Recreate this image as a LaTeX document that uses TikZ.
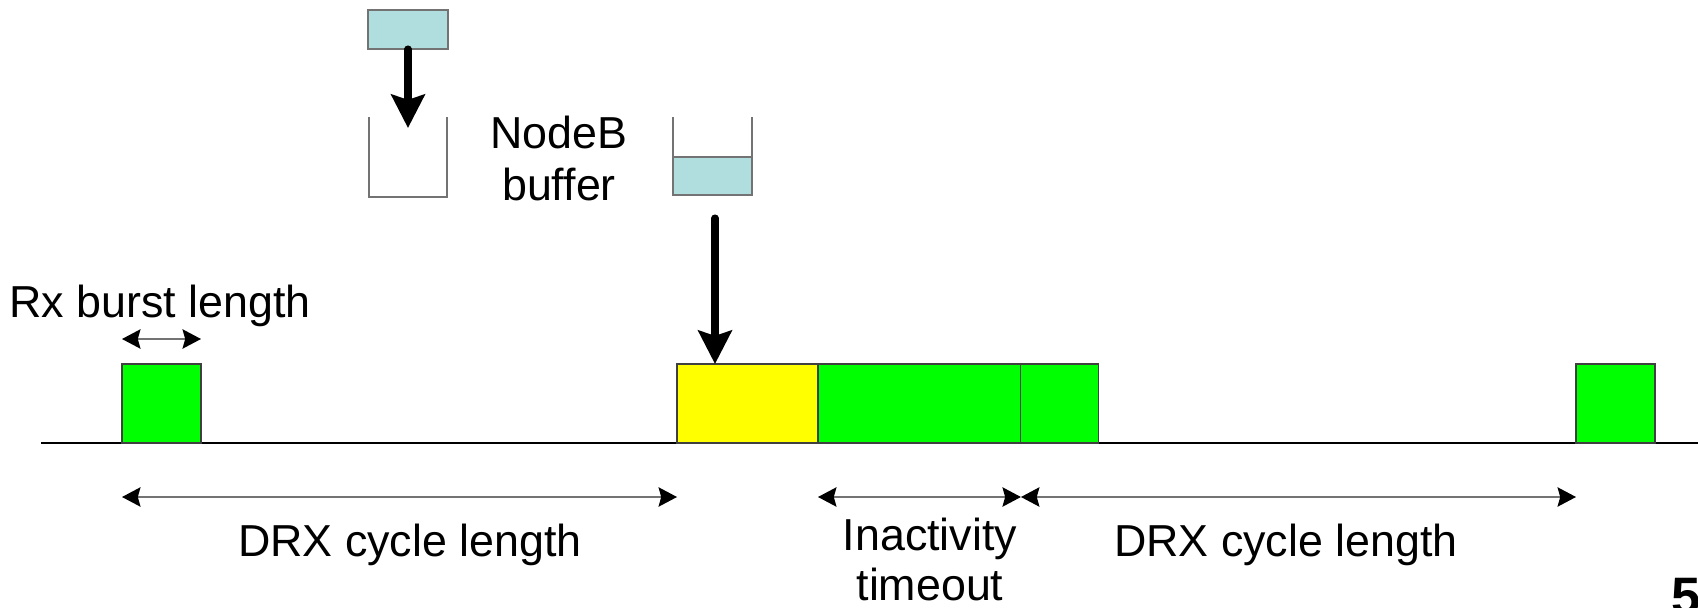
\documentclass[tikz,border=0pt]{standalone}
\usepackage{fontspec}
\setmainfont{Liberation Sans}
\usetikzlibrary{arrows.meta,positioning}
\definecolor{pktcyan}{RGB}{176,221,221}
\definecolor{rxgreen}{RGB}{0,255,0}
\definecolor{rxyellow}{RGB}{255,255,0}
\tikzset{dimtip/.tip={Stealth[length=10.5pt,width=11pt,inset=1.5pt,color=black]}}

\begin{document}
\begin{tikzpicture}[x=0.02cm,y=-0.02cm,
  font=\fontsize{25.5}{29.5}\selectfont,
  slot/.style={draw=black!75,line width=0.6pt,minimum height=1.58cm,inner sep=0pt,outer sep=0pt},
  burst/.style={slot,fill=rxgreen,minimum width=1.58cm},
  pktbox/.style={draw=black!55,line width=0.6pt,fill=pktcyan,inner sep=0pt,outer sep=0pt,minimum width=1.58cm},
  bufline/.style={draw=black!55,line width=0.7pt},
  dim/.style={black!55,line width=1.1pt,dimtip-dimtip},
  fat/.style={line width=4pt,line cap=round,-{Stealth[length=19pt,width=19pt,inset=3pt]}},
  lbl/.style={inner sep=0pt,anchor=base}]
  \useasboundingbox (0,0) rectangle (1698,608);

  % Time axis
  \draw[line width=0.7pt] (41,443) -- (1698,443);

  % Rx bursts on the axis
  \foreach \n/\x in {rx1/161.5, rx3/1615.5}
    \node[burst] (\n) at (\x,403.5) {};
  \node[slot,fill=rxyellow,minimum width=2.82cm] (data) at (747.5,403.5) {};
  \node[slot,fill=rxgreen,minimum width=4.06cm,right=0pt of data] (inact) {};
  \node[burst,minimum width=1.56cm,right=0pt of inact] (rx2) {};

  % NodeB buffer, before and after
  \node[pktbox,minimum width=1.6cm,minimum height=0.78cm] (pkt) at (408,29.5) {};
  \node[inner sep=0pt,outer sep=0pt,minimum width=1.56cm,minimum height=1.6cm] (buf1) at (408,157) {};
  \draw[bufline] (buf1.north west) |- (buf1.south east) -- (buf1.north east);
  \node[inner sep=0pt,outer sep=0pt,minimum width=1.58cm,minimum height=1.56cm] (buf2) at (712.5,156) {};
  \node[pktbox,minimum height=0.76cm,anchor=south] (queued) at (buf2.south) {};
  \draw[bufline] (buf2.north west) -- (buf2.south west) (buf2.north east) -- (buf2.south east);

  % Arrows
  \draw[fat] (pkt.south) -- ([yshift=-0.22cm]buf1.north);
  \coordinate (drop) at (715,218);
  \draw[fat] (drop) -- (drop |- data.north);

  % Lengths
  \coordinate (burstrow) at (0,339);
  \coordinate (dimrow) at (0,497);
  \draw[dim] (rx1.west |- burstrow) -- (rx1.east |- burstrow);
  \draw[dim] (rx1.west |- dimrow) -- (data.west |- dimrow);
  \draw[dim] (inact.west |- dimrow) -- (inact.east |- dimrow);
  \draw[dim] (rx2.west |- dimrow) -- (rx3.west |- dimrow);

  % Labels
  \node[lbl,anchor=base west] (burstlbl) at (9,317) {Rx burst length};
  \node[lbl,anchor=north,align=center] (buflbl) at (559,116) {NodeB\\buffer};
  \node[lbl] (drx1) at (410,556) {DRX cycle length};
  \node[lbl,anchor=north,align=center,font=\fontsize{25.5}{28}\selectfont] (inactlbl) at (930,518) {Inactivity\\timeout};
  \node[lbl] (drx2) at (1286,556) {DRX cycle length};

  % Page number
  \begin{scope}
    \clip (0,0) rectangle (1698,608);
    \node[inner sep=0pt,anchor=north west,font=\fontsize{30}{30}\bfseries] (page) at (1671,578) {5};
  \end{scope}
\end{tikzpicture}
\end{document}
